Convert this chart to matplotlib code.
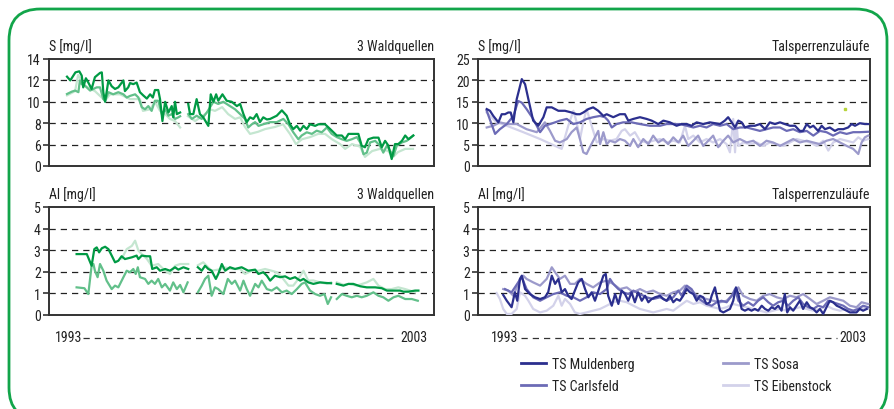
import numpy as np
import matplotlib
matplotlib.use("Agg")
import matplotlib.pyplot as plt
from matplotlib.lines import Line2D
from matplotlib.patches import FancyBboxPatch

plt.rcParams['font.family'] = ['Roboto Condensed', 'DejaVu Sans']

# months since Jan 1993, value ; None marks a gap in the record
s_wald_dark = [(0, 12.35), (1.1, 12.0), (2.8, 12.75), (4.1, 12.85), (4.9, 12.45), (5.4, 11.35), (6.3, 12.2),
               (7.1, 11.8), (8.2, 11.2), (9.3, 12.3), (11, 12.7), (11.6, 12.75), (12.1, 10.9), (12.7, 10.0),
               (13.8, 12.0), (14.9, 11.45), (16, 11.2), (17.1, 11.35), (18.8, 12.0), (19.3, 11.0), (20.4, 11.35),
               (21, 11.75), (22.1, 11.65), (23.2, 11.8), (24.3, 10.9), (25.4, 10.6), (26.6, 10.3), (27.7, 10.7),
               (28.6, 10.4), (29.3, 11.1), (30.4, 11.1), (31, 10.25), (31.8, 8.2), (32.7, 10.0), (33.8, 9.0),
               (34.9, 9.6), (35.4, 8.55), (36, 10.0), (36.6, 8.85), (37.7, 9.0), (39, None), (40.4, 9.8),
               (41, 8.85), (42.1, 8.85), (43.2, 10.25), (44.3, 8.85), (45.4, 8.55), (47.1, 7.75), (47.9, 10.7),
               (48.8, 10.0), (49.7, 10.7), (50.4, 10.1), (51.8, 10.7), (53.2, 10.1), (54.9, 10.0), (56.6, 9.6),
               (57.7, 9.8), (58.8, 8.85), (59.9, 8.1), (61, 8.55), (62.1, 8.4), (63.2, 8.85), (64.3, 8.1),
               (65.4, 8.55), (66.6, 8.35), (67.7, 8.4), (69.9, 8.7), (71.6, 9.2), (73.2, 8.7), (74.3, 7.9),
               (75.4, 7.45), (76.6, 7.75), (77.7, 7.3), (78.8, 7.75), (79.9, 7.45), (81, 7.9), (82.7, 7.75),
               (83.8, 7.9), (86, 7.9), (87.7, 7.45), (88.8, 7.15), (89.9, 6.85), (91.6, 6.85), (92.7, 6.5),
               (93.8, 7.0), (95.4, 7.0), (97.1, 7.0), (98.2, 5.9), (99.3, 5.75), (100.4, 6.5), (102.1, 6.65),
               (103.8, 6.65), (104.9, 5.75), (106, 6.35), (107.1, 5.9), (108.2, 4.65), (109.3, 6.05),
               (110.4, 6.05), (111.6, 6.35), (112.7, 6.85), (113.8, 6.5), (115.4, 6.85)]
s_wald_mid = [(0, 10.73), (1.6, 10.95), (2.7, 11.05), (3.8, 10.9), (4.3, 12.0), (4.9, 11.65), (6, 11.5),
              (7.7, 11.05), (8.8, 11.2), (9.9, 11.35), (11, 11.35), (12.1, 10.25), (12.7, 10.1), (13.8, 10.9),
              (15.4, 10.7), (17.1, 10.9), (18.8, 10.7), (19.9, 10.4), (21, 10.55), (22.7, 10.7), (23.8, 10.4),
              (24.9, 9.5), (26, 9.3), (27.1, 9.6), (28.2, 9.15), (29.3, 10.1), (30.4, 10.1), (31.6, 8.85),
              (32.7, 9.3), (33.8, 8.7), (34.9, 8.85), (36, 8.4), (37.1, 8.55), (37.7, 8.65), (39, None),
              (40.4, 8.85), (41.6, 8.4), (43.2, 8.7), (44.9, 8.4), (46.6, 9.0), (47.7, 9.5), (48.8, 10.0),
              (50.4, 9.8), (52.1, 10.0), (54.3, 9.6), (56, 9.3), (57.7, 8.85), (59.3, 8.4), (60.4, 7.6),
              (61.6, 7.9), (62.7, 8.1), (63.8, 7.75), (65.4, 7.9), (67.7, 8.1), (69.9, 8.1), (72.1, 8.4),
              (73.8, 7.9), (75.4, 7.15), (77.1, 6.5), (78.2, 6.85), (79.9, 7.15), (81.6, 7.0), (83.2, 7.3),
              (84.9, 7.15), (86.6, 7.6), (88.2, 7.0), (89.9, 6.7), (91.6, 6.5), (93.2, 6.35), (94.9, 6.5),
              (96.6, 6.7), (97.7, 6.2), (98.8, 5.1), (99.9, 5.25), (101, 6.2), (102.7, 6.35), (104.3, 5.9),
              (105.4, 5.25), (106.6, 5.9), (107.7, 5.4), (108.8, 4.95), (109.9, 5.9), (111.6, 6.2),
              (113.2, 6.35), (115.4, 6.85)]
s_wald_light = [(0, 10.6), (2.7, 11.0), (3.7, 12.5), (6, 11.5), (9.3, 11.0), (12.7, 10.1), (14.3, 10.7),
                (17.7, 10.7), (21, 10.25), (24.3, 10.25), (25.3, 9.15), (27.7, 9.3), (29.3, 10.0), (31, 9.15),
                (32.7, 8.85), (34.3, 8.4), (36, 8.2), (37.7, 7.6), (39, None), (40.3, 8.65), (42.7, 8.2),
                (46, 8.85), (47.7, 9.3), (49.3, 9.15), (51.7, 9.5), (53.7, 8.85), (56, 8.4), (57.7, 8.55),
                (59.3, 7.65), (61, 7.0), (63.7, 7.2), (66, 7.45), (69.3, 7.65), (72, 7.9), (74.3, 7.0),
                (76.3, 6.05), (78.3, 6.5), (81, 6.7), (83.7, 7.0), (86, 7.0), (88.3, 6.5), (91, 6.05),
                (92.7, 5.6), (95, 6.05), (97.7, 5.8), (99.3, 4.85), (101.7, 5.4), (104.3, 5.6), (107, 5.4),
                (108.7, 4.85), (110.3, 5.3), (112.7, 5.6), (115.3, 5.6)]

al_wald_dark = [(3.2, 2.82), (6.6, 2.82), (8.2, 2.28), (9.1, 3.05), (9.9, 3.13), (10.7, 2.9), (11.6, 3.09),
                (12.7, 3.16), (13.8, 3.05), (14.9, 2.75), (16, 2.44), (17.1, 2.51), (18.2, 2.72), (19.3, 2.59),
                (21.6, 2.67), (23.2, 2.75), (23.8, 2.59), (24.9, 2.75), (26.6, 2.72), (27.7, 2.72), (28.4, 2.13),
                (29.9, 2.21), (31, 2.05), (32.7, 2.13), (34.3, 2.05), (36, 2.21), (37.1, 2.1), (38.8, 2.21),
                (40.4, 2.13), (42, None), (43.6, 2.21), (44.9, 2.05), (46, 2.28), (47.1, 2.13), (48.2, 2.05),
                (49.6, 1.67), (50.4, 1.9), (51.6, 2.36), (52.7, 2.05), (54.3, 2.21), (56, 2.13), (58.2, 2.21),
                (60.4, 2.05), (62.7, 2.1), (63.8, 1.9), (65.4, 1.98), (66.6, 1.82), (67.7, 1.59), (69.3, 1.82),
                (71, 1.75), (72.7, 1.79), (74.3, 1.67), (76, 1.75), (77.7, 1.59), (78.8, 1.67), (80.4, 1.51),
                (82.1, 1.44), (84.3, 1.51), (86.6, 1.48), (88, 1.47), (89, None), (89.9, 1.44), (92.1, 1.36),
                (93.8, 1.44), (95.4, 1.44), (97.7, 1.33), (99.9, 1.28), (102.7, 1.28), (104.9, 1.24),
                (106.6, 1.13), (108.8, 1.13), (111, 1.13), (112.1, 1.08), (113.8, 1.08), (116, 1.13), (117.1, 1.13)]
al_wald_mid = [(3.2, 1.28), (5.8, 1.24), (7.1, 0.97), (8.2, 2.28), (8.8, 2.36), (9.3, 2.05), (10.2, 1.75),
               (11, 2.36), (12.1, 2.05), (13.2, 1.59), (14.9, 1.2), (16, 1.36), (17.1, 1.28), (18.8, 1.75),
               (19.9, 2.05), (21, 1.98), (22.1, 2.13), (22.9, 1.9), (23.6, 2.21), (24.3, 1.75), (26, 1.67),
               (27.1, 1.44), (28.2, 1.59), (29.3, 1.44), (30.4, 1.67), (31.6, 1.28), (32.7, 1.44), (34.3, 1.13),
               (35.4, 1.51), (36.6, 1.2), (37.7, 1.39), (38.8, 1.05), (40.2, 1.51), (42, None), (43.6, 1.05),
               (44.9, 1.36), (46, 1.67), (47.1, 1.82), (48.2, 0.89), (49.3, 1.28), (50.4, 1.2), (52.1, 0.97),
               (53.6, 1.67), (54.9, 1.44), (56, 1.59), (57.7, 1.13), (58.8, 1.59), (59.9, 1.2), (61, 0.89),
               (62.7, 1.44), (63.8, 1.28), (64.9, 1.59), (66.6, 1.2), (68.2, 1.13), (69.9, 1.28), (71.6, 1.05),
               (73.2, 1.13), (74.9, 0.97), (76.6, 1.2), (78.2, 1.44), (79.3, 1.51), (81, 1.13), (82.7, 0.97),
               (84.3, 0.89), (85.8, 0.97), (86.9, 0.51), (88, 0.82), (89, None), (89.9, 0.74), (91.6, 0.97),
               (93.2, 0.89), (94.9, 0.82), (96.6, 0.89), (98.2, 0.82), (99.9, 0.89), (102.1, 1.05),
               (103.8, 0.89), (105.4, 0.82), (107.1, 0.66), (108.8, 0.82), (110.4, 0.89), (112.7, 0.74),
               (114.9, 0.74), (116.9, 0.66)]
al_wald_light = [(18.2, 2.6), (19.9, 3.05), (21.6, 3.2), (22.7, 3.44), (23.8, 2.98), (24.9, 2.82), (26.6, 2.6),
                 (28.2, 2.28), (30.4, 2.36), (32.7, 2.05), (34.3, 1.9), (36, 2.28), (37.7, 2.36), (39.3, 2.36),
                 (40.4, 2.36), (42, None), (43.6, 2.3), (45.4, 2.44), (47.1, 2.2), (48.2, 2.05), (50.4, 2.1),
                 (52.7, 2.2), (54.9, 2.13), (57.7, 2.13), (59.3, 1.9), (61.6, 2.05), (63.8, 2.05), (66, 2.13),
                 (68.2, 2.05), (69.9, 1.98), (71.6, 1.75), (73.8, 1.36), (75.4, 1.36), (77.1, 1.67),
                 (78.8, 2.05), (80.4, 1.59), (82.1, 1.6), (84.3, 1.51), (86.6, 1.45), (88, 1.51), (89, None),
                 (89.9, 1.51), (92.1, 1.4), (93.8, 1.44), (96.6, 1.36), (99.9, 1.51), (102.1, 1.67),
                 (103.8, 1.36), (106, 1.2), (108.2, 1.2), (110.4, 1.28), (112.7, 1.2), (114.3, 1.13), (116, 1.05)]

s_muldenberg = [(-3.1, 13.3), (-2, 12.9), (-0.9, 11.7), (0.8, 10.2), (1.9, 12.1), (3, 12.1), (4.1, 12.5),
                (4.9, 12.5), (5.8, 10.2), (6.9, 15.6), (8.6, 20.3), (9.7, 19.1), (10.8, 15.6), (12.4, 10.6),
                (14.1, 9.4), (15.8, 11.4), (16.9, 13.7), (18.6, 13.7), (20.8, 12.9), (23, 12.9), (25.2, 12.5),
                (26.9, 12.1), (28, 12.1), (29.1, 12.5), (30.8, 13.3), (32.4, 13.7), (34.1, 12.9), (35.8, 11.7),
                (36.9, 12.1), (39.1, 11.4), (41.3, 12.1), (43, 12.1), (44.1, 10.6), (45.8, 11.0), (48, 11.4),
                (50.2, 11.0), (51.9, 10.6), (54.1, 9.8), (55.8, 10.6), (58, 10.2), (60.2, 9.4), (61.9, 9.8),
                (63.6, 9.8), (65.2, 9.4), (66.9, 10.2), (69.1, 9.8), (71.3, 10.2), (73, 10.0), (74.7, 9.8),
                (76.3, 10.6), (77.4, 11.4), (78.6, 10.2), (79.7, 9.0), (80.8, 10.6), (81.9, 10.2), (83, 9.0),
                (84.7, 9.4), (86.3, 9.4), (88, 9.8), (89.7, 8.6), (91.3, 10.2), (93, 9.8), (94.7, 10.2),
                (96.3, 9.8), (98, 9.4), (99.7, 9.4), (101.3, 8.2), (102.4, 8.2), (103.6, 9.8), (104.7, 9.0),
                (105.8, 9.4), (107.4, 8.2), (108.6, 9.4), (109.7, 8.6), (111.3, 9.0), (113, 8.2), (114.1, 8.6),
                (115.8, 8.6), (117.4, 9.0), (118.6, 9.8), (119.7, 9.4), (121.3, 10.0), (123, 9.8), (124.1, 9.8)]
s_carlsfeld = [(-3.1, 12.9), (-0.3, 7.5), (1.3, 8.6), (3.6, 9.8), (5.8, 11.7), (7.4, 15.2), (8.6, 14.8),
               (10.2, 13.3), (12.4, 11.0), (14.7, 7.9), (16.3, 9.4), (18, 9.8), (19.7, 10.2), (21.3, 10.6),
               (23.6, 11.0), (25.8, 9.8), (28, 10.2), (30.2, 11.0), (32.4, 11.4), (34.7, 11.7), (36.3, 11.4),
               (37.4, 10.6), (38.6, 9.0), (40.2, 9.8), (42.4, 10.2), (45.2, 10.2), (48, 9.8), (51.3, 9.4),
               (54.7, 9.4), (56.9, 9.8), (59.1, 9.8), (61.3, 9.8), (63.6, 9.4), (65.8, 9.0), (68, 9.4),
               (70.2, 9.0), (72.4, 9.8), (74.7, 9.4), (76.9, 9.8), (79.1, 8.6), (81.3, 9.0), (83.6, 9.0),
               (85.8, 8.6), (88, 8.2), (90.2, 8.6), (92.4, 9.0), (94.7, 9.0), (96.9, 8.2), (99.1, 8.6),
               (101.3, 7.9), (103.6, 8.2), (105.8, 7.1), (108, 8.2), (110.2, 7.9), (112.4, 7.1), (114.7, 7.9),
               (116.9, 7.5), (119.1, 7.9), (121.3, 7.9), (124.1, 8.0)]
s_sosa = [(-3.1, 9.0), (-0.9, 9.4), (1.3, 10.2), (3.6, 9.8), (6.9, 9.8), (10.2, 8.6), (13.6, 7.9), (16.3, 10.2),
          (18, 8.2), (19.7, 5.9), (21.3, 5.5), (23.6, 6.3), (25.2, 7.9), (26.9, 9.0), (28, 6.3), (29.1, 3.2),
          (30.2, 2.8), (31.3, 4.4), (33, 6.7), (34.1, 8.2), (34.7, 5.1), (35.8, 7.9), (36.9, 5.1), (38, 5.9),
          (39.7, 5.5), (41.3, 6.3), (43, 5.9), (44.7, 4.7), (45.8, 6.3), (47.4, 4.4), (49.1, 6.3), (50.8, 5.1),
          (52.4, 7.1), (54.1, 5.5), (55.8, 6.3), (57.4, 5.1), (59.1, 6.7), (60.8, 5.5), (62.4, 7.1), (64.1, 4.7),
          (65.8, 5.9), (67.4, 7.1), (69.1, 4.7), (70.8, 5.9), (72.4, 7.1), (74.1, 4.4), (75.8, 5.9), (77.4, 7.1),
          (79.1, 5.5), (81.3, 6.3), (83.6, 5.5), (85.8, 5.9), (88, 4.7), (90.2, 5.9), (92.4, 5.5), (94.7, 4.7),
          (96.9, 5.5), (99.1, 6.3), (101.3, 5.5), (103.6, 5.9), (105.8, 5.5), (108, 5.1), (110.2, 5.9),
          (112.4, 6.3), (114.7, 5.5), (116.9, 4.7), (119.1, 4.0), (120.8, 2.8), (121.9, 5.5), (123, 6.7),
          (124.1, 7.1)]
s_eibenstock = [(-3.1, 12.5), (0.2, 10.2), (3.6, 9.4), (9.1, 7.9), (14.7, 6.3), (21.9, 4.0), (24.1, 9.4),
                (25.8, 12.9), (26.9, 10.2), (28, 6.3), (29.1, 10.2), (30.2, 13.3), (31.9, 9.4), (33.6, 5.5),
                (35.8, 6.3), (38, 5.9), (40.2, 6.3), (41.9, 8.2), (43, 8.6), (44.7, 7.1), (46.3, 7.9), (48, 5.9),
                (50.2, 5.5), (52.4, 5.9), (54.7, 6.3), (56.9, 5.5), (59.1, 5.9), (61.3, 5.5), (63, 9.4),
                (64.1, 6.3), (65.8, 7.1), (68, 5.5), (70.2, 6.3), (72.4, 5.5), (74.7, 6.3), (76.9, 5.1),
                (78, 3.2), (79.1, 11.0), (79.7, 3.2), (80.2, 10.2), (80.8, 4.7), (82.4, 5.5), (84.7, 5.1),
                (86.9, 5.5), (89.1, 4.7), (91.3, 5.5), (93.6, 5.1), (95.8, 4.7), (98, 5.5), (100.2, 6.3),
                (102.4, 5.9), (104.7, 5.5), (106.9, 4.7), (109.1, 5.9), (110.8, 3.6), (112.4, 5.5), (114.7, 6.3),
                (116.9, 5.9), (119.1, 5.5), (120.8, 6.7), (122.4, 5.9), (124.1, 6.3)]
s_stray = [(116.3, 13.3)]

al_muldenberg = [(2.4, 0.93), (3.6, 0.66), (5.2, 0.36), (6.3, 1.05), (7.1, 0.66), (8, 1.67), (8.6, 1.82),
                 (9.7, 1.2), (11.3, 0.97), (13, 0.82), (14.7, 0.74), (16.3, 0.82), (17.4, 1.05), (18.6, 1.82),
                 (19.7, 1.44), (20.8, 1.67), (21.9, 1.05), (23, 1.2), (24.1, 0.89), (25.2, 0.74), (26.3, 1.13),
                 (27.4, 1.51), (28.6, 1.67), (29.7, 1.2), (30.8, 0.82), (31.9, 1.05), (33, 0.66), (34.7, 1.36),
                 (35.8, 1.82), (36.6, 1.9), (37.4, 0.89), (38.6, 0.43), (39.7, 0.97), (40.8, 0.51), (41.9, 1.13),
                 (43, 0.97), (44.1, 0.66), (45.2, 1.05), (46.3, 0.59), (47.4, 1.05), (48.6, 0.66), (49.7, 0.89),
                 (50.8, 0.59), (51.9, 0.74), (53, 0.82), (54.7, 0.89), (55.8, 0.74), (56.9, 0.66), (58, 0.89),
                 (59.1, 0.59), (60.2, 0.74), (61.3, 0.66), (62.4, 0.89), (63.6, 1.2), (64.7, 1.05), (65.8, 0.97),
                 (66.9, 0.66), (68, 0.89), (69.1, 0.82), (70.2, 0.51), (71.3, 0.59), (71.9, 0.89), (73, 1.28),
                 (73.6, 0.89), (74.7, 0.2), (75.8, 0.12), (76.9, 0.2), (78, 0.28), (79.1, 0.66), (80, 1.28),
                 (80.8, 0.97), (81.9, 0.28), (83, 0.2), (84.1, 0.28), (85.2, 0.2), (86.3, 0.28), (87.4, 0.2),
                 (88.6, 0.43), (89.7, 0.28), (90.8, 0.2), (91.9, 0.36), (93, 0.28), (94.1, 0.43), (95.2, 0.2),
                 (96.3, 0.97), (97.1, 0.12), (98, 0.36), (99.1, 0.2), (100.2, 0.43), (101.3, 0.66), (102.4, 0.28),
                 (103.6, 0.59), (104.7, 0.36), (105.8, 0.28), (106.9, 0.12), (108, 0.28), (109.1, 0.05),
                 (110.2, 0.36), (111.3, 0.66), (112.4, 0.59), (113.6, 0.43), (114.7, 0.36), (115.8, 0.28),
                 (116.9, 0.2), (118, 0.12), (119.1, 0.12), (120.2, 0.12), (121.3, 0.28), (122.4, 0.2), (123.6, 0.28)]
al_carlsfeld = [(3, 1.2), (5.2, 1.05), (7.4, 1.51), (8.6, 1.75), (10.2, 1.2), (12.4, 0.82), (14.7, 0.66),
                (16.9, 0.82), (19.1, 0.97), (21.3, 1.05), (23.6, 0.89), (25.8, 0.82), (28, 0.66), (30.2, 0.82),
                (32.4, 1.05), (34.7, 0.97), (36.9, 1.2), (38, 1.67), (39.1, 1.44), (40.8, 1.2), (42.4, 1.05),
                (44.1, 0.97), (45.8, 1.13), (48, 0.97), (50.2, 0.82), (52.4, 0.74), (54.7, 0.82), (56.9, 0.66),
                (59.1, 0.82), (60.8, 1.13), (61.9, 0.89), (63.6, 1.36), (65.2, 1.2), (66.9, 0.82), (68.6, 0.66),
                (70.2, 0.51), (71.9, 0.43), (73.6, 0.59), (75.2, 0.66), (76.9, 0.59), (78.6, 0.89), (79.7, 1.2),
                (80.8, 0.66), (82.4, 0.43), (84.1, 0.59), (85.8, 0.43), (87.4, 0.66), (89.1, 0.82), (90.8, 0.59),
                (92.4, 0.43), (94.1, 0.59), (95.8, 0.66), (97.4, 0.43), (99.1, 0.66), (100.8, 0.82), (102.4, 0.51),
                (104.1, 0.36), (105.8, 0.28), (107.4, 0.43), (109.1, 0.36), (110.8, 0.66), (112.4, 0.59),
                (114.1, 0.51), (115.8, 0.43), (117.4, 0.28), (119.1, 0.2), (120.8, 0.28), (122.4, 0.43),
                (124.1, 0.36)]
al_sosa = [(2.4, 1.2), (4.1, 1.13), (5.8, 0.89), (8, 1.67), (9.1, 1.82), (10.2, 1.67), (12.4, 1.51),
           (14.7, 1.36), (16.9, 1.67), (18.6, 2.21), (19.7, 1.98), (21.3, 1.67), (23, 1.82), (24.7, 1.44),
           (26.3, 1.44), (28, 1.67), (30.2, 1.44), (32.4, 1.28), (34.7, 1.51), (36.9, 1.59), (39.1, 1.44),
           (41.3, 1.2), (43.6, 1.28), (45.8, 1.05), (48, 1.2), (50.2, 1.05), (52.4, 1.13), (54.7, 0.97),
           (56.9, 0.89), (59.1, 1.05), (61.3, 1.13), (63, 1.36), (64.7, 1.2), (66.3, 0.97), (68, 0.82),
           (70.2, 0.74), (72.4, 0.66), (74.7, 0.59), (76.9, 0.66), (79.1, 0.97), (80.8, 1.28), (82.4, 0.89),
           (84.7, 0.74), (86.9, 0.66), (89.1, 0.89), (91.3, 0.97), (93.6, 0.82), (95.8, 0.74), (98, 0.89),
           (100.2, 0.82), (102.4, 0.97), (104.7, 0.74), (106.9, 0.51), (109.1, 0.66), (111.3, 0.82),
           (113.6, 0.74), (115.8, 0.66), (118, 0.43), (120.2, 0.36), (121.9, 0.59), (124.1, 0.51)]
al_eibenstock = [(0.2, 1.02), (1.3, 0.74), (2.4, 0.28), (3.6, 0.05), (5.2, 0.05), (6.9, 0.28), (8, 1.05),
                 (9.7, 0.89), (10.8, 0.66), (12.4, 0.28), (14.7, 0.12), (16.9, 0.2), (19.1, 0.43), (20.8, 0.89),
                 (21.9, 0.43), (23, 0.74), (24.7, 0.51), (26.3, 0.12), (28, 0.05), (30.2, 0.12), (32.4, 0.2),
                 (34.7, 0.28), (36.9, 0.43), (39.1, 0.59), (41.3, 0.66), (43.6, 0.59), (45.8, 0.43), (48, 0.28),
                 (50.2, 0.2), (52.4, 0.12), (54.7, 0.2), (56.9, 0.28), (59.1, 0.2), (61.3, 0.43), (63.6, 0.66),
                 (65.8, 0.51), (68, 0.59), (70.2, 0.43), (72.4, 0.36), (74.7, 0.28), (76.9, 0.36), (79.1, 0.51),
                 (81.3, 0.43), (83.6, 0.36), (85.8, 0.28), (88, 0.2), (90.2, 0.12), (92.4, 0.2), (94.7, 0.28),
                 (96.9, 0.2), (99.1, 0.28), (101.3, 0.36), (103.6, 0.28), (105.8, 0.2), (108, 0.28),
                 (110.2, 0.43), (112.4, 0.28), (114.7, 0.2), (116.9, 0.28), (119.1, 0.2), (121.3, 0.36),
                 (124.1, 0.28)]

greens = ['#009a44', '#62c08a', '#c4e6d0']
blues = ['#2b2f8e', '#6c6bb6', '#9c9acb', '#d3d2ea']
ts_names = ['TS Muldenberg', 'TS Carlsfeld', 'TS Sosa', 'TS Eibenstock']

FS = 10


def xy(series):
    m = np.array([p[0] for p in series], dtype=float)
    v = np.array([np.nan if p[1] is None else p[1] for p in series], dtype=float)
    return m, v


fig = plt.figure(figsize=(8.95, 4.10), dpi=100)
W, H = 895.0, 410.0


def px_axes(x0, y0, x1, y1):
    return fig.add_axes([x0 / W, 1 - y1 / H, (x1 - x0) / W, (y1 - y0) / H])


def style(ax, ylim, ticks, labels, xlim, left_title, right_title):
    ax.set_xlim(*xlim)
    ax.set_ylim(*ylim)
    ax.set_yticks(ticks)
    ax.set_yticklabels(labels)
    ax.set_xticks([])
    for sp in ax.spines.values():
        sp.set_color('#333333')
        sp.set_linewidth(1.4)
    ax.tick_params(axis='y', direction='out', length=4, width=1.2, color='#333333',
                   labelsize=FS, labelcolor='#222222', pad=2)
    for t in ticks[1:-1]:
        ax.axhline(t, color='#222222', lw=0.9, dashes=(5, 4), zorder=1)
    ax.text(0, 1.06, left_title, transform=ax.transAxes, ha='left', va='bottom', fontsize=FS, color='#222222')
    ax.text(1, 1.06, right_title, transform=ax.transAxes, ha='right', va='bottom', fontsize=FS, color='#222222')


xl_left = (-6, 122.3)
xl_right = (-6, 124.7)

ax1 = px_axes(49, 60, 434, 167)
for s, c in [(s_wald_light, greens[2]), (s_wald_mid, greens[1]), (s_wald_dark, greens[0])]:
    m, v = xy(s)
    ax1.plot(m, v, color=c, lw=1.6, zorder=3)
style(ax1, (4, 14), [4, 6, 8, 10, 12, 14], ['0', '6', '8', '10', '12', '14'], xl_left, 'S [mg/l]', '3 Waldquellen')

ax2 = px_axes(49, 208, 434, 316)
for s, c in [(al_wald_light, greens[2]), (al_wald_mid, greens[1]), (al_wald_dark, greens[0])]:
    m, v = xy(s)
    ax2.plot(m, v, color=c, lw=1.6, zorder=3)
style(ax2, (0, 5), [0, 1, 2, 3, 4, 5], ['0', '1', '2', '3', '4', '5'], xl_left, 'Al [mg/l]', '3 Waldquellen')

ax3 = px_axes(478, 60, 870, 167)
for s, c in zip([s_eibenstock, s_sosa, s_carlsfeld, s_muldenberg], blues[::-1]):
    m, v = xy(s)
    ax3.plot(m, v, color=c, lw=1.6, zorder=3)
m, v = xy(s_stray)
ax3.plot(m, v, ls='none', marker='s', ms=2, color='#b7d43a', zorder=3)
style(ax3, (0, 25), [0, 5, 10, 15, 20, 25], ['0', '5', '10', '15', '20', '25'], xl_right, 'S [mg/l]', 'Talsperrenzuläufe')

ax4 = px_axes(478, 208, 870, 316)
for s, c in zip([al_eibenstock, al_sosa, al_carlsfeld, al_muldenberg], blues[::-1]):
    m, v = xy(s)
    ax4.plot(m, v, color=c, lw=1.6, zorder=3)
style(ax4, (0, 5), [0, 1, 2, 3, 4, 5], ['0', '1', '2', '3', '4', '5'], xl_right, 'Al [mg/l]', 'Talsperrenzuläufe')

# year span under the lower panels
for x_a, x_b, x_c, x_d in [(55, 83, 398, 428), (491, 521, 837, 867)]:
    fig.text(x_a / W, 1 - 338 / H, '1993', ha='left', va='center', fontsize=FS, color='#222222')
    fig.text(x_d / W, 1 - 338 / H, '2003', ha='right', va='center', fontsize=FS, color='#222222')
    fig.add_artist(Line2D([x_b / W, x_c / W], [1 - 339 / H, 1 - 339 / H], transform=fig.transFigure,
                          color='#333333', lw=0.9, dashes=(5, 4)))

handles = [Line2D([], [], color=c, lw=2) for c in blues]
fig.legend(handles, ts_names, ncol=2, loc='upper left', bbox_to_anchor=(521 / W, 1 - 358 / H),
           frameon=False, fontsize=FS, handlelength=1.8, handletextpad=0.4, columnspacing=6.4,
           labelspacing=0.55, borderpad=0, borderaxespad=0, labelcolor='#222222')

# rounded green frame round the whole figure
frame = FancyBboxPatch((9 / W, -10 / H), (887 - 9) / W, (400 + 10) / H,
                       boxstyle='round,pad=0,rounding_size=0.035', transform=fig.transFigure,
                       fill=False, edgecolor='#12a54a', lw=2.0, mutation_aspect=W / H)
fig.add_artist(frame)

fig.savefig('out.png', dpi=100)
